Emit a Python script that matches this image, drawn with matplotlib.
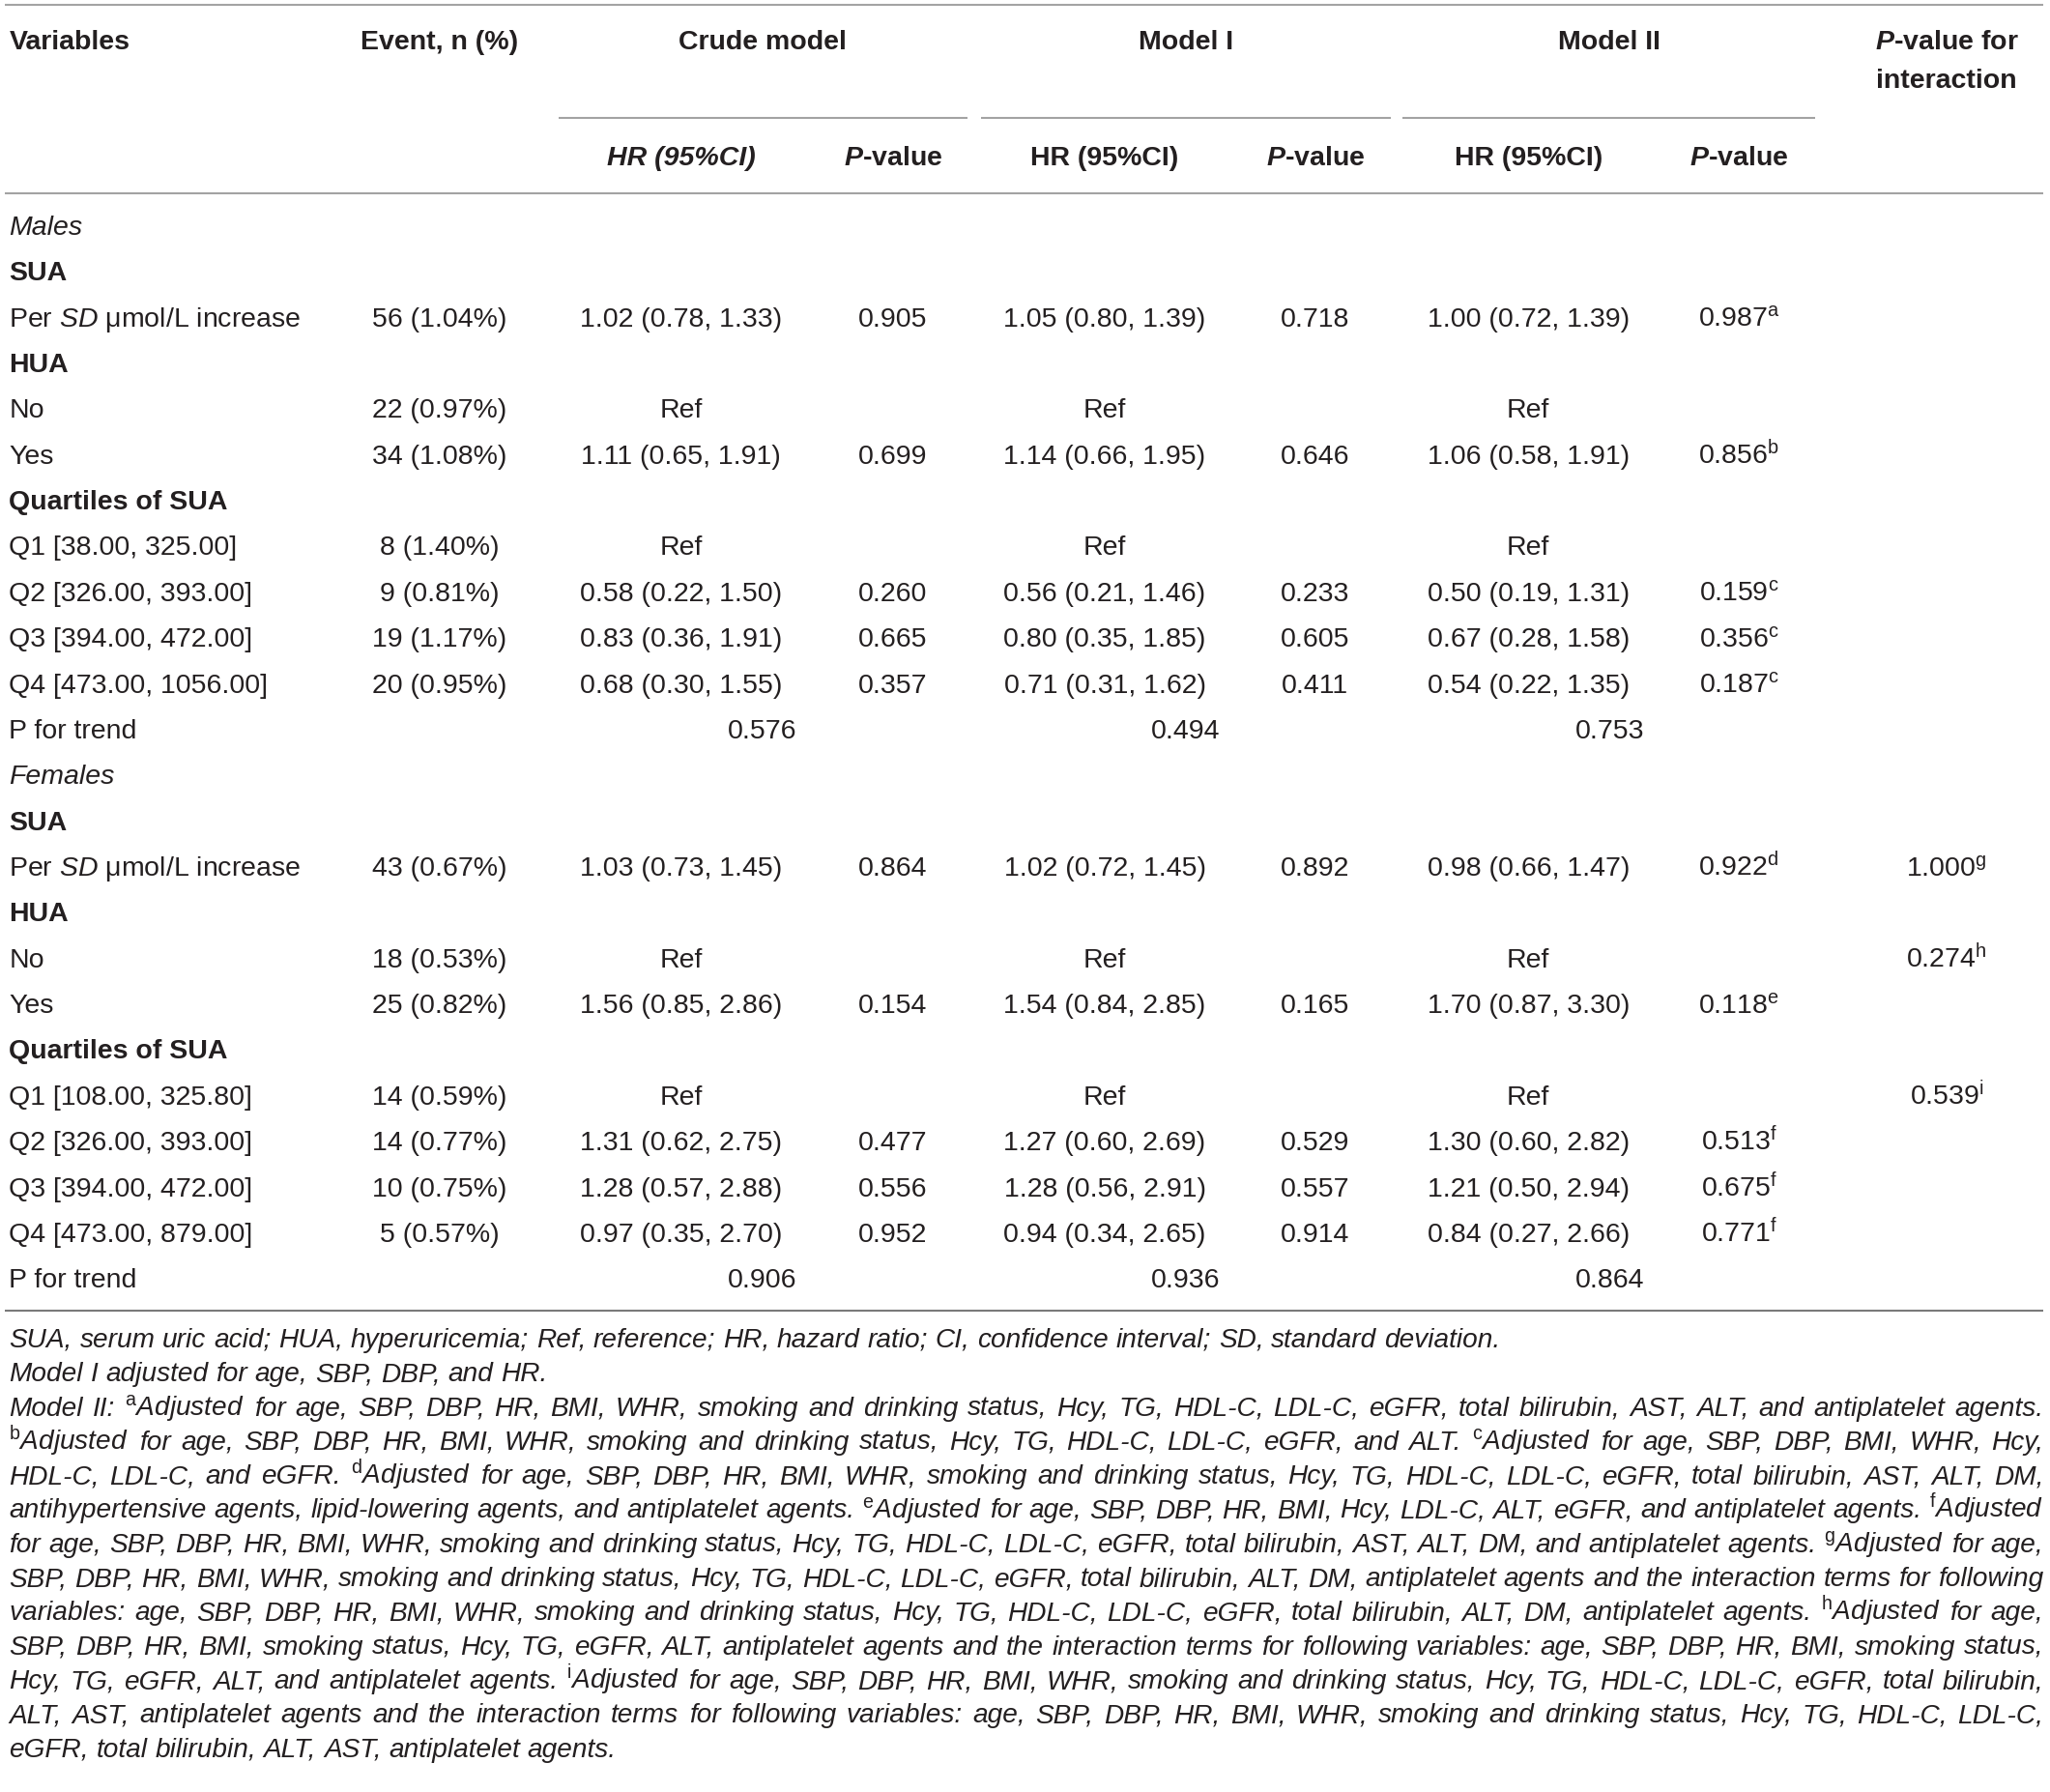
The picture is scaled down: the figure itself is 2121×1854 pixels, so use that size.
import matplotlib
matplotlib.use("Agg")
import matplotlib.pyplot as plt

plt.rcParams["font.family"] = ["Liberation Sans", "DejaVu Sans"]
plt.rcParams["mathtext.fontset"] = "custom"
plt.rcParams["mathtext.rm"] = "Liberation Sans"
plt.rcParams["mathtext.it"] = "Liberation Sans:italic"
plt.rcParams["mathtext.bf"] = "Liberation Sans:bold"
plt.rcParams["mathtext.bfit"] = "Liberation Sans:italic:bold"

# ---- table data ----
male_labels = ["Per $\\mathit{SD}$ μmol/L increase", "No", "Yes", "Q1 [38.00, 325.00]",
               "Q2 [326.00, 393.00]", "Q3 [394.00, 472.00]", "Q4 [473.00, 1056.00]"]
male_events = ["56 (1.04%)", "22 (0.97%)", "34 (1.08%)", "8 (1.40%)", "9 (0.81%)", "19 (1.17%)", "20 (0.95%)"]
male_crude_hr = ["1.02 (0.78, 1.33)", "Ref", "1.11 (0.65, 1.91)", "Ref", "0.58 (0.22, 1.50)", "0.83 (0.36, 1.91)", "0.68 (0.30, 1.55)"]
male_crude_p = ["0.905", "", "0.699", "", "0.260", "0.665", "0.357"]
male_m1_hr = ["1.05 (0.80, 1.39)", "Ref", "1.14 (0.66, 1.95)", "Ref", "0.56 (0.21, 1.46)", "0.80 (0.35, 1.85)", "0.71 (0.31, 1.62)"]
male_m1_p = ["0.718", "", "0.646", "", "0.233", "0.605", "0.411"]
male_m2_hr = ["1.00 (0.72, 1.39)", "Ref", "1.06 (0.58, 1.91)", "Ref", "0.50 (0.19, 1.31)", "0.67 (0.28, 1.58)", "0.54 (0.22, 1.35)"]
male_m2_p = ["0.987", "", "0.856", "", "0.159", "0.356", "0.187"]
male_m2_note = ["a", "", "b", "", "c", "c", "c"]
male_inter = ["", "", "", "", "", "", ""]
male_inter_note = ["", "", "", "", "", "", ""]
male_trend = ["0.576", "0.494", "0.753"]

female_labels = ["Per $\\mathit{SD}$ μmol/L increase", "No", "Yes", "Q1 [108.00, 325.80]",
                 "Q2 [326.00, 393.00]", "Q3 [394.00, 472.00]", "Q4 [473.00, 879.00]"]
female_events = ["43 (0.67%)", "18 (0.53%)", "25 (0.82%)", "14 (0.59%)", "14 (0.77%)", "10 (0.75%)", "5 (0.57%)"]
female_crude_hr = ["1.03 (0.73, 1.45)", "Ref", "1.56 (0.85, 2.86)", "Ref", "1.31 (0.62, 2.75)", "1.28 (0.57, 2.88)", "0.97 (0.35, 2.70)"]
female_crude_p = ["0.864", "", "0.154", "", "0.477", "0.556", "0.952"]
female_m1_hr = ["1.02 (0.72, 1.45)", "Ref", "1.54 (0.84, 2.85)", "Ref", "1.27 (0.60, 2.69)", "1.28 (0.56, 2.91)", "0.94 (0.34, 2.65)"]
female_m1_p = ["0.892", "", "0.165", "", "0.529", "0.557", "0.914"]
female_m2_hr = ["0.98 (0.66, 1.47)", "Ref", "1.70 (0.87, 3.30)", "Ref", "1.30 (0.60, 2.82)", "1.21 (0.50, 2.94)", "0.84 (0.27, 2.66)"]
female_m2_p = ["0.922", "", "0.118", "", "0.513", "0.675", "0.771"]
female_m2_note = ["d", "", "e", "", "f", "f", "f"]
female_inter = ["1.000", "0.274", "", "0.539", "", "", ""]
female_inter_note = ["g", "h", "", "i", "", "", ""]
female_trend = ["0.906", "0.936", "0.864"]

notes = [
    "SUA, serum uric acid; HUA, hyperuricemia; Ref, reference; HR, hazard ratio; CI, confidence interval; SD, standard deviation.",
    "Model I adjusted for age, SBP, DBP, and HR.",
    "Model II: $^{\\mathrm{a}}$Adjusted for age, SBP, DBP, HR, BMI, WHR, smoking and drinking status, Hcy, TG, HDL-C, LDL-C, eGFR, total bilirubin, AST, ALT, and antiplatelet agents.",
    "$^{\\mathrm{b}}$Adjusted for age, SBP, DBP, HR, BMI, WHR, smoking and drinking status, Hcy, TG, HDL-C, LDL-C, eGFR, and ALT. $^{\\mathrm{c}}$Adjusted for age, SBP, DBP, BMI, WHR, Hcy,",
    "HDL-C, LDL-C, and eGFR. $^{\\mathrm{d}}$Adjusted for age, SBP, DBP, HR, BMI, WHR, smoking and drinking status, Hcy, TG, HDL-C, LDL-C, eGFR, total bilirubin, AST, ALT, DM,",
    "antihypertensive agents, lipid-lowering agents, and antiplatelet agents. $^{\\mathrm{e}}$Adjusted for age, SBP, DBP, HR, BMI, Hcy, LDL-C, ALT, eGFR, and antiplatelet agents. $^{\\mathrm{f}}$Adjusted",
    "for age, SBP, DBP, HR, BMI, WHR, smoking and drinking status, Hcy, TG, HDL-C, LDL-C, eGFR, total bilirubin, AST, ALT, DM, and antiplatelet agents. $^{\\mathrm{g}}$Adjusted for age,",
    "SBP, DBP, HR, BMI, WHR, smoking and drinking status, Hcy, TG, HDL-C, LDL-C, eGFR, total bilirubin, ALT, DM, antiplatelet agents and the interaction terms for following",
    "variables: age, SBP, DBP, HR, BMI, WHR, smoking and drinking status, Hcy, TG, HDL-C, LDL-C, eGFR, total bilirubin, ALT, DM, antiplatelet agents. $^{\\mathrm{h}}$Adjusted for age,",
    "SBP, DBP, HR, BMI, smoking status, Hcy, TG, eGFR, ALT, antiplatelet agents and the interaction terms for following variables: age, SBP, DBP, HR, BMI, smoking status,",
    "Hcy, TG, eGFR, ALT, and antiplatelet agents. $^{\\mathrm{i}}$Adjusted for age, SBP, DBP, HR, BMI, WHR, smoking and drinking status, Hcy, TG, HDL-C, LDL-C, eGFR, total bilirubin,",
    "ALT, AST, antiplatelet agents and the interaction terms for following variables: age, SBP, DBP, HR, BMI, WHR, smoking and drinking status, Hcy, TG, HDL-C, LDL-C,",
    "eGFR, total bilirubin, ALT, AST, antiplatelet agents.",
]
justified = [False, False, True, True, True, True, True, True, True, True, True, True, False]

# ---- layout (units of a 1568 x 1370 page) ----
W, H = 1568, 1370
S = 2121 / W
INK = "#231f20"
FS = 20.5
OFF = 7.5

fig = plt.figure(figsize=(21.21, 18.54), dpi=100)
ax = fig.add_axes([0, 0, 1, 1])
ax.set_xlim(0, W)
ax.set_ylim(H, 0)
ax.axis("off")
r = fig.canvas.get_renderer()

X_VAR = 7
X_EVT = 336
X_COLS = [521, 683, 845, 1006, 1169, 1330]
X_INT = 1489
X_TREND = [583, 907, 1231]


def cell(x, y, s, ha="center", **kw):
    return ax.text(x, y + OFF, s, ha=ha, va="baseline", fontsize=FS, color=INK, **kw)


def sup(v, n):
    if v and n:
        return v + "$^{\\mathrm{" + n + "}}$"
    return v


# rules
LW = 1.5
ax.plot([4, 1563], [3.5, 3.5], color="#a3a3a3", lw=LW, solid_capstyle="butt")
for a, b in [(427, 740), (750, 1064), (1073, 1388)]:
    ax.plot([a, b], [90.5, 90.5], color="#a3a3a3", lw=LW, solid_capstyle="butt")
ax.plot([4, 1563], [147.5, 147.5], color="#a3a3a3", lw=LW, solid_capstyle="butt")
ax.plot([4, 1563], [1002, 1002], color="#7a7a7a", lw=LW, solid_capstyle="butt")

# header
cell(X_VAR, 30, "Variables", ha="left", fontweight="bold")
cell(X_EVT, 30, "Event, n (%)", fontweight="bold")
cell(583, 30, "Crude model", fontweight="bold")
cell(907, 30, "Model I", fontweight="bold")
cell(1231, 30, "Model II", fontweight="bold")
cell(X_INT, 30, "$\\mathbfit{P}$-value for", fontweight="bold")
cell(X_INT, 60, "interaction", fontweight="bold")
cell(X_COLS[0], 119, "HR (95%CI)", fontweight="bold", style="italic")
cell(X_COLS[2], 119, "HR (95%CI)", fontweight="bold")
cell(X_COLS[4], 119, "HR (95%CI)", fontweight="bold")
for x in (X_COLS[1], X_COLS[3], X_COLS[5]):
    cell(x, 119, "$\\mathbfit{P}$-value", fontweight="bold")

# body
ROW = 35
groups = [
    ("Males", 172, male_labels, male_events, [male_crude_hr, male_crude_p, male_m1_hr, male_m1_p, male_m2_hr],
     male_m2_p, male_m2_note, male_inter, male_inter_note, male_trend),
    ("Females", 592, female_labels, female_events, [female_crude_hr, female_crude_p, female_m1_hr, female_m1_p, female_m2_hr],
     female_m2_p, female_m2_note, female_inter, female_inter_note, female_trend),
]
data_slot = [2, 4, 5, 7, 8, 9, 10]
for sex, y0, labels, events, cols, m2p, m2n, inter, intn, trend in groups:
    cell(X_VAR, y0, sex, ha="left", style="italic")
    cell(X_VAR, y0 + ROW * 1, "SUA", ha="left", fontweight="bold")
    cell(X_VAR, y0 + ROW * 3, "HUA", ha="left", fontweight="bold")
    cell(X_VAR, y0 + ROW * 6, "Quartiles of SUA", ha="left", fontweight="bold")
    for i, slot in enumerate(data_slot):
        y = y0 + ROW * slot
        cell(X_VAR, y, labels[i], ha="left")
        cell(X_EVT, y, events[i])
        for x, col in zip(X_COLS[:5], cols):
            if col[i]:
                cell(x, y, col[i])
        if m2p[i]:
            cell(X_COLS[5], y, sup(m2p[i], m2n[i]))
        if inter[i]:
            cell(X_INT, y, sup(inter[i], intn[i]))
    y = y0 + ROW * 11
    cell(X_VAR, y, "P for trend", ha="left")
    for x, v in zip(X_TREND, trend):
        cell(x, y, v)

# footnotes (justified by word placement)
def wid(t):
    return t.get_window_extent(renderer=r).width / S


probe = ax.text(0, 0, notes[0], fontsize=16, style="italic")
FN = 16 * 1140 / wid(probe)
probe.remove()
sp = ax.text(0, 0, "x x", fontsize=FN, style="italic")
sp2 = ax.text(0, 0, "xx", fontsize=FN, style="italic")
SPACE = wid(sp) - wid(sp2)
sp.remove()
sp2.remove()

X0, X1 = 7, 1563
for k, (line, just) in enumerate(zip(notes, justified)):
    y = 1024 + 26.1 * k + 6
    words = line.split(" ")
    ts = [ax.text(0, y, w, fontsize=FN, style="italic", color=INK, va="baseline") for w in words]
    ws = [wid(t) for t in ts]
    gap = (X1 - X0 - sum(ws)) / (len(ws) - 1) if just else SPACE
    x = X0
    for t, w in zip(ts, ws):
        t.set_x(x)
        x += w + gap

fig.savefig("out.png", dpi=100)
